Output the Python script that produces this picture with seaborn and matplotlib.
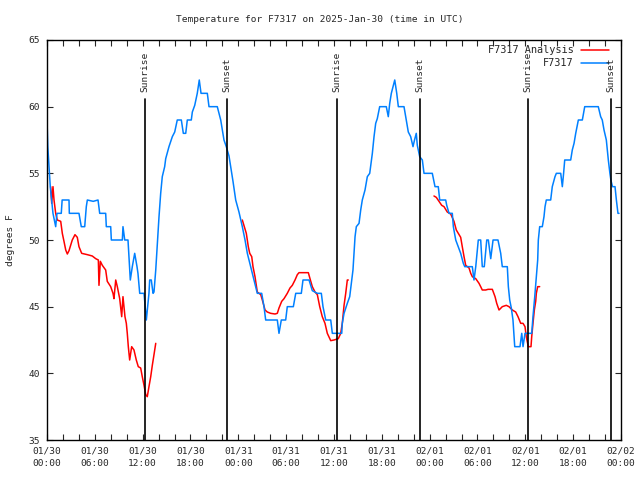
import pandas as pd
import matplotlib
matplotlib.use('Agg')
import matplotlib.pyplot as plt
import matplotlib.dates as mdates
import seaborn as sns

# observed temperature (hours after 2025-01-30 00:00 UTC, deg F)
blue_hours = [0.0, 0.1, 0.41, 0.75, 1.09, 1.25, 1.79, 1.9, 2.76, 2.8, 4.01, 4.30, 4.73, 4.93, 5.06, 5.8,
              6.40, 6.61, 7.36, 7.44, 7.99, 8.07, 9.45, 9.53, 9.75, 10.16, 10.45, 10.70, 11.0, 11.29,
              11.41, 11.63, 12.17, 12.26, 12.46, 12.79, 12.88, 13.08, 13.30, 13.42, 13.64, 13.84, 14.05,
              14.26, 14.46, 14.76, 14.89, 15.30, 15.72, 16.02, 16.34, 16.85, 17.10, 17.4, 17.60, 18.10,
              18.23, 18.53, 18.85, 19.10, 19.32, 20.11, 20.32, 21.36, 21.58, 21.79, 21.99, 22.20, 22.49,
              22.83, 23.04, 23.33, 23.67, 24.08, 24.50, 24.84, 25.13, 25.55, 25.97, 26.38, 26.93, 27.22,
              27.43, 28.89, 29.10, 29.39, 29.94, 30.14, 30.90, 31.20, 31.90, 32.11, 32.87, 33.28, 33.91,
              34.41, 34.62, 34.96, 35.59, 35.79, 36.97, 37.04, 37.26, 37.67, 37.97, 38.22, 38.38, 38.51,
              38.64, 38.80, 39.14, 39.35, 39.55, 39.89, 40.18, 40.48, 40.81, 41.02, 41.23, 41.43, 41.73,
              42.56, 42.81, 42.99, 43.19, 43.44, 43.62, 43.87, 44.07, 44.78, 45.07, 45.32, 45.62, 45.91,
              46.1, 46.32, 46.45, 46.75, 47.08, 47.29, 48.33, 48.67, 49.08, 49.26, 50.01, 50.14, 50.43,
              50.84, 50.97, 51.27, 51.89, 52.22, 52.40, 53.35, 53.56, 53.78, 53.98, 54.10, 54.40, 54.60,
              54.85, 55.16, 55.36, 55.66, 55.95, 56.57, 56.91, 57.11, 57.74, 57.87, 58.04, 58.24, 58.45,
              58.67, 59.33, 59.55, 59.71, 59.96, 60.80, 60.96, 61.18, 61.38, 61.55, 61.63, 61.80, 62.13,
              62.34, 62.47, 62.63, 63.18, 63.38, 63.72, 63.89, 64.44, 64.64, 64.8, 64.94, 65.69, 65.89,
              66.11, 66.32, 66.65, 67.15, 67.45, 69.15, 69.45, 69.65, 69.87, 70.16, 70.41, 70.61, 70.73,
              70.93, 71.25, 71.42, 71.62, 71.75]
blue_temp = [59.0, 57.0, 54.0, 52.0, 51.0, 52.0, 52.0, 53.0, 53.0, 52.0, 52.0, 51.0, 51.0, 52.5, 53.0, 52.9,
             53.0, 52.0, 52.0, 51.0, 51.0, 50.0, 50.0, 51.0, 50.0, 50.0, 47.0, 48.0, 49.0, 48.0,
             47.5, 46.0, 46.0, 45.4, 44.0, 46.0, 47.0, 47.0, 46.0, 46.1, 47.75, 49.75, 51.75,
             53.5, 54.75, 55.5, 56.1, 57.0, 57.75, 58.1, 59.0, 59.0, 58.0, 58.0, 59.0, 59.0,
             59.6, 60.1, 61.0, 62.0, 61.0, 61.0, 60.0, 60.0, 59.5, 59.0, 58.25, 57.5, 57.0,
             56.3, 55.5, 54.4, 53.0, 52.1, 51.0, 50.0, 49.0, 48.0, 47.0, 46.0, 46.0, 45.0,
             44.0, 44.0, 43.0, 44.0, 44.0, 45.0, 45.0, 46.0, 46.0, 47.0, 47.0, 46.2, 46.0,
             46.0, 45.0, 44.0, 44.0, 43.0, 43.0, 43.75, 44.5, 45.25, 45.75, 47.0, 47.75, 49.0,
             50.25, 51.0, 51.25, 52.25, 53.0, 53.75, 54.75, 55.0, 56.5, 57.75, 58.75, 59.1, 60.0,
             60.0, 59.25, 60.25, 61.0, 61.6, 62.0, 61.0, 60.0, 60.0, 59.0, 58.1, 57.75, 57.0,
             57.5, 58.0, 57.1, 56.25, 56.0, 55.0, 55.0, 54.0, 54.0, 53.0, 53.0, 52.6, 52.0,
             52.0, 51.0, 50.0, 49.0, 48.25, 48.0, 48.0, 47.0, 48.0, 49.25, 50.0, 50.0, 48.0,
             48.0, 50.0, 50.0, 48.6, 50.0, 50.0, 49.0, 48.0, 48.0, 46.5, 45.5, 44.9, 44.0,
             42.0, 42.0, 43.0, 42.0, 43.0, 43.0, 44.25, 45.75, 47.25, 48.5, 50.0, 51.0, 51.0,
             51.75, 52.5, 53.0, 53.0, 54.0, 54.75, 55.0, 55.0, 54.0, 55.0, 56.0, 56.0, 56.75,
             57.25, 58.0, 59.0, 59.0, 60.0, 60.0, 59.25, 59.0, 58.25, 57.5, 56.0, 55.0, 54.5,
             54.0, 54.0, 53.0, 52.0, 52.0]

# analysis (three separate runs)
red_hours = [0.46, 0.59, 0.75, 0.88, 1.09, 1.29, 1.72, 1.92, 2.13, 2.35, 2.55, 2.76, 3.17, 3.51, 3.80,
             4.01, 4.35, 5.06, 5.68, 6.11, 6.44, 6.52, 6.69, 6.94, 7.36, 7.56, 7.99, 8.28, 8.40, 8.62,
             8.82, 9.12, 9.37, 9.53, 9.78, 9.95, 10.07, 10.20, 10.37, 10.62, 10.91, 11.20, 11.45, 11.75,
             11.95, 12.17, 12.38, 12.58, 12.79, 13.01, 13.21, 13.42, 13.64,
             24.50, 25.0, 25.25, 25.43, 25.68, 25.84, 26.09, 26.38, 26.81, 27.01, 27.35, 27.63, 28.06,
             28.60, 28.89, 29.10, 29.44, 29.73, 30.14, 30.48, 30.77, 31.11, 31.40, 31.61, 32.78, 32.99,
             33.28, 33.62, 33.91, 34.21, 34.53, 34.87, 35.16, 35.59, 36.0, 36.54, 36.84, 37.04, 37.26,
             37.47, 37.67, 37.79,
             48.54, 48.83, 49.17, 49.51, 49.80, 50.21, 50.64, 51.05, 51.34, 51.59, 51.89, 52.09, 52.31,
             52.52, 52.94, 53.15, 53.35, 53.78, 54.19, 54.40, 54.60, 55.03, 55.32, 55.86, 56.20, 56.41,
             56.70, 57.11, 57.61, 57.95, 58.37, 58.79, 59.08, 59.42, 59.71, 59.96, 60.12, 60.37, 60.71,
             60.80, 60.96, 61.13, 61.30, 61.38, 61.55, 61.80]
red_temp = [54.0, 52.75, 54.0, 53.0, 52.0, 51.5, 51.4, 50.5, 49.9, 49.25, 48.95, 49.2, 50.0, 50.4, 50.2,
            49.5, 49.0, 48.9, 48.8, 48.6, 48.5, 46.6, 48.4, 48.1, 47.75, 46.9, 46.5, 46.0, 45.6, 47.0,
            46.5, 45.6, 44.25, 45.75, 44.25, 43.75, 43.0, 42.0, 41.0, 42.0, 41.75, 41.0, 40.5, 40.4,
            39.75, 39.1, 38.4, 38.25, 39.0, 39.75, 40.6, 41.4, 42.25,
            51.5, 50.5, 49.5, 49.0, 48.75, 48.0, 47.25, 46.1, 45.9, 45.5, 44.75, 44.6, 44.5,
            44.45, 44.5, 44.9, 45.4, 45.6, 46.0, 46.4, 46.6, 47.0, 47.4, 47.55, 47.55, 47.1,
            46.5, 46.1, 45.9, 45.0, 44.25, 43.75, 43.0, 42.45, 42.5, 42.6, 43.0, 43.75, 45.1,
            46.0, 47.0, 47.0,
            53.3, 53.2, 52.9, 52.6, 52.5, 52.1, 51.95, 51.4, 50.75, 50.5, 50.2, 49.5, 48.75,
            48.1, 47.9, 47.5, 47.25, 47.1, 46.75, 46.5, 46.25, 46.25, 46.3, 46.3, 45.75, 45.25,
            44.75, 45.0, 45.1, 45.0, 44.75, 44.6, 44.25, 43.75, 43.75, 43.5, 42.75, 42.0, 42.0,
            42.75, 43.75, 44.75, 45.4, 46.0, 46.5, 46.5]
red_seg = [1] * 53 + [2] * 42 + [3] * 46

sun_hours = [12.33, 22.62, 36.42, 46.75, 60.37, 70.79]
sun_labels = ['Sunrise', 'Sunset', 'Sunrise', 'Sunset', 'Sunrise', 'Sunset']

start = pd.Timestamp('2025-01-30 00:00')
blue = pd.DataFrame({'time': start + pd.to_timedelta(blue_hours, unit='h'), 'temp': blue_temp})
red = pd.DataFrame({'time': start + pd.to_timedelta(red_hours, unit='h'), 'temp': red_temp, 'seg': red_seg})

sns.set_style('ticks')
plt.rcParams['font.family'] = ['DejaVu Sans Mono']
fs = 6.8

fig = plt.figure(figsize=(6.4, 4.8), dpi=100)
ax = fig.add_axes([47 / 640, 40 / 480, 574 / 640, 400 / 480])

red_c = '#ff0000'
blue_c = '#0080ff'
for s, d in red.groupby('seg'):
    sns.lineplot(data=d, x='time', y='temp', color=red_c, lw=1.1, estimator=None, sort=False, ax=ax)
sns.lineplot(data=blue, x='time', y='temp', color=blue_c, lw=1.1, estimator=None, sort=False, ax=ax)

for h, lab in zip(sun_hours, sun_labels):
    t = start + pd.Timedelta(hours=h)
    ax.plot([t, t], [35, 60.6], color='black', lw=1.2, zorder=5)
    ax.text(t, 61.1, lab, rotation=90, ha='center', va='bottom', fontsize=fs)

ax.set_xlim(start, start + pd.Timedelta(hours=72))
ax.set_ylim(35, 65)
ax.set_yticks(range(35, 66, 5))
ax.xaxis.set_major_locator(mdates.HourLocator(byhour=range(0, 24, 6)))
ax.xaxis.set_minor_locator(mdates.HourLocator(byhour=range(0, 24, 2)))
ax.xaxis.set_major_formatter(mdates.DateFormatter('%m/%d\n%H:%M'))
ax.tick_params(which='both', direction='in', top=True, right=True, length=4, width=0.8,
               labelsize=fs, pad=5)
for lbl in ax.get_xticklabels():
    lbl.set_linespacing(1.5)
ax.set_xlabel('')
ax.set_ylabel('')
for sp in ax.spines.values():
    sp.set_linewidth(1.0)
    sp.set_color('black')

# gnuplot style key, top right
ax.text(0.918, 0.975, 'F7317 Analysis', transform=ax.transAxes, ha='right', va='center', fontsize=fs + 0.6)
ax.plot([0.930, 0.979], [0.975, 0.975], transform=ax.transAxes, color=red_c, lw=1.1)
ax.text(0.918, 0.9425, 'F7317', transform=ax.transAxes, ha='right', va='center', fontsize=fs + 0.6)
ax.plot([0.930, 0.979], [0.9425, 0.9425], transform=ax.transAxes, color=blue_c, lw=1.1)

fig.text(0.5, 1 - 19 / 480, 'Temperature for F7317 on 2025-Jan-30 (time in UTC)',
         ha='center', va='center', fontsize=fs)
fig.text(11 / 640, 0.5, 'degrees F', rotation=90, ha='center', va='center', fontsize=fs)

fig.savefig('out.png', dpi=100)
